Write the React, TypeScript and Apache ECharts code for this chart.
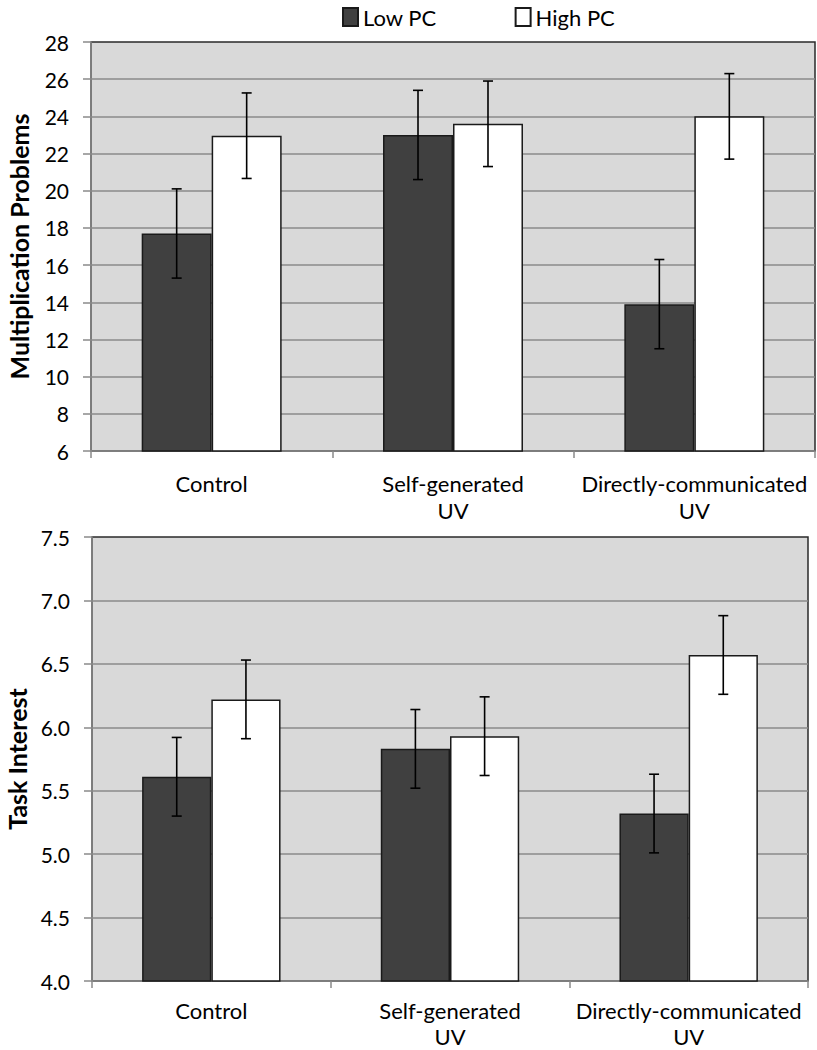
import React, { useEffect, useRef } from "react";
import * as echarts from "echarts";

const categories = ["Control", "Self-generated\nUV", "Directly-communicated\nUV"];
const seriesNames = ["Low PC", "High PC"];

const problemsLow = [17.7, 23.0, 13.9];
const problemsHigh = [22.96, 23.6, 24.0];
const problemsLowErr = [2.4, 2.4, 2.4];
const problemsHighErr = [2.3, 2.3, 2.3];

const interestLow = [5.61, 5.83, 5.32];
const interestHigh = [6.22, 5.93, 6.57];
const interestLowErr = [0.31, 0.31, 0.31];
const interestHighErr = [0.31, 0.31, 0.31];

const problemsAxis = { min: 6, max: 28, interval: 2, title: "Multiplication Problems" };
const interestAxis = { min: 4.0, max: 7.5, interval: 0.5, title: "Task Interest" };

const FONT = "Lato";
const GAP = 0.42;
const colors = ["#404040", "#ffffff"];

function errSeries(vals: number[], errs: number[], side: number, axisIndex: number) {
  return {
    type: "custom",
    xAxisIndex: axisIndex,
    yAxisIndex: axisIndex,
    z: 5,
    silent: true,
    data: vals.map((v, i) => [i, v, errs[i]]),
    renderItem: (params: any, api: any) => {
      const x = api.value(0);
      const y = api.value(1);
      const e = api.value(2);
      const c = api.coord([x, y]);
      const band = api.size([1, 0])[0];
      const barW = (band * (1 - GAP)) / 2;
      const cx = c[0] + (side * barW) / 2;
      const top = api.coord([x, y + e])[1];
      const bot = api.coord([x, y - e])[1];
      const cap = 5;
      const style = { stroke: "#000", lineWidth: 1.6 };
      return {
        type: "group",
        children: [
          { type: "line", shape: { x1: cx, y1: top, x2: cx, y2: bot }, style },
          { type: "line", shape: { x1: cx - cap, y1: top, x2: cx + cap, y2: top }, style },
          { type: "line", shape: { x1: cx - cap, y1: bot, x2: cx + cap, y2: bot }, style },
        ],
      };
    },
  };
}

function barSeries(name: string, vals: number[], idx: number, axisIndex: number) {
  return {
    name,
    type: "bar",
    xAxisIndex: axisIndex,
    yAxisIndex: axisIndex,
    data: vals,
    barGap: "0%",
    barCategoryGap: GAP * 100 + "%",
    itemStyle: { color: colors[idx], borderColor: "#1a1a1a", borderWidth: 1.5 },
    z: 2,
  };
}

function yAxisOpt(ax: any, gridIndex: number, decimals: number) {
  return {
    type: "value",
    gridIndex,
    min: ax.min,
    max: ax.max,
    interval: ax.interval,
    name: ax.title,
    nameLocation: "middle",
    nameGap: 60,
    nameRotate: 90,
    nameTextStyle: { fontFamily: FONT, fontWeight: "bold", fontSize: 25, color: "#000" },
    axisLine: { show: true, lineStyle: { color: "#8a8a8a", width: 1.5 } },
    axisTick: { show: true, length: 8, lineStyle: { color: "#8a8a8a", width: 1.5 } },
    axisLabel: {
      margin: 22,
      fontFamily: FONT,
      fontSize: 21,
      color: "#000",
      formatter: (v: number) => v.toFixed(decimals),
    },
    splitLine: {
      show: true,
      showMinLine: false,
      showMaxLine: false,
      lineStyle: { color: "#8a8a8a", width: 1.5 },
    },
  };
}

function xAxisOpt(gridIndex: number, margin: number, lineHeight: number) {
  return {
    type: "category",
    gridIndex,
    data: categories,
    axisLine: { show: true, lineStyle: { color: "#8a8a8a", width: 1.5 } },
    axisTick: { show: true, length: 7, lineStyle: { color: "#8a8a8a", width: 1.5 } },
    axisLabel: {
      margin,
      fontFamily: FONT,
      fontSize: 22,
      lineHeight,
      color: "#000",
      interval: 0,
    },
  };
}

export default function App() {
  const ref = useRef<HTMLDivElement>(null);
  useEffect(() => {
    if (!ref.current) return;
    const chart = echarts.init(ref.current, undefined, { renderer: "svg" });
    const gridCommon = {
      show: true,
      backgroundColor: "#d9d9d9",
      borderColor: "#2a2a2a",
      borderWidth: 1.5,
      containLabel: false,
      outerBoundsMode: "none",
    };
    chart.setOption({
      animation: false,
      backgroundColor: "#ffffff",
      legend: {
        data: seriesNames,
        left: 337,
        top: 1,
        icon: "rect",
        itemWidth: 15,
        itemHeight: 18,
        itemGap: 78,
        textStyle: { fontFamily: FONT, fontSize: 22, color: "#000" },
      },
      grid: [
        { ...gridCommon, left: 91, right: 2, top: 42, height: 409 },
        { ...gridCommon, left: 92, right: 9, top: 537, height: 444 },
      ],
      xAxis: [xAxisOpt(0, 19, 27), xAxisOpt(1, 16, 26)],
      yAxis: [yAxisOpt(problemsAxis, 0, 0), yAxisOpt(interestAxis, 1, 1)],
      series: [
        barSeries(seriesNames[0], problemsLow, 0, 0),
        barSeries(seriesNames[1], problemsHigh, 1, 0),
        barSeries(seriesNames[0], interestLow, 0, 1),
        barSeries(seriesNames[1], interestHigh, 1, 1),
        errSeries(problemsLow, problemsLowErr, -1, 0),
        errSeries(problemsHigh, problemsHighErr, 1, 0),
        errSeries(interestLow, interestLowErr, -1, 1),
        errSeries(interestHigh, interestHighErr, 1, 1),
      ],
    });
    return () => chart.dispose();
  }, []);
  return (
    <div
      ref={ref}
      style={{ position: "absolute", left: 0, top: 0, width: 817, height: 1050 }}
    />
  );
}
